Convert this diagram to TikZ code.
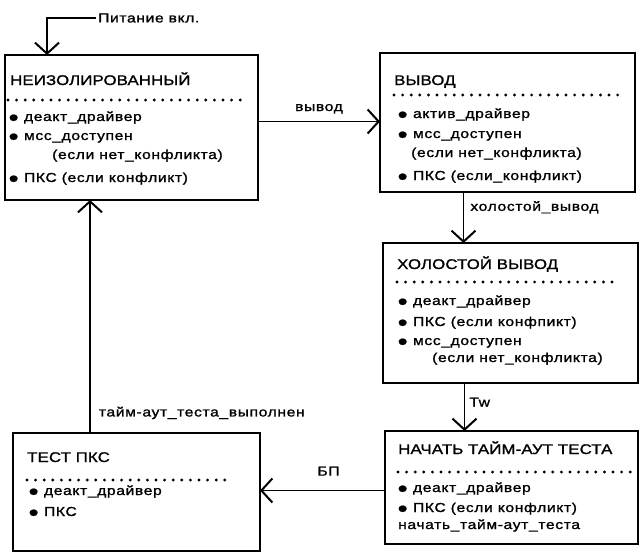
\documentclass[tikz,border=0pt]{standalone}
\usepackage{fontspec}
\setmainfont{Liberation Sans}
\newfontfamily\titlefont[FakeStretch=1.2,LetterSpace=1,FakeBold=1.3]{Liberation Sans}
\newfontfamily\itemfont[FakeStretch=1.2,LetterSpace=5,FakeBold=1.3]{Liberation Sans}
\newcommand{\bul}{\raisebox{-1pt}{\fontsize{15}{15}\selectfont ●}}
\usetikzlibrary{arrows.meta,positioning,calc}

\begin{document}
\begin{tikzpicture}[
    x=1pt, y=-1pt,
    statebox/.style={draw, line width=2.8pt, outer sep=0pt, inner sep=0pt, anchor=north west},
    ttl/.style={font=\titlefont\fontsize{14}{16}\selectfont, anchor=base west, inner sep=0pt},
    itm/.style={font=\itemfont\fontsize{13}{15}\selectfont, anchor=base west, inner sep=0pt},
    lbl/.style={font=\itemfont\fontsize{13}{15}\selectfont, inner sep=2pt},
    dots/.style={line width=3.2pt, line cap=round, dash pattern=on 0pt off 8.6pt},
    arr/.style={-{Straight Barb[length=11pt,width=24pt,line width=2pt]}, line width=1.8pt},
]
\useasboundingbox (0,0) rectangle (642,552);

% ── States ──
\node[statebox, minimum width=253pt, minimum height=145pt] (neizol) at (5,55) {};
\node[statebox, minimum width=255pt, minimum height=139pt] (vyvod) at (380,53) {};
\node[statebox, minimum width=255pt, minimum height=140pt] (holost) at (383,243) {};
\node[statebox, minimum width=253pt, minimum height=113pt] (nachat) at (385,431) {};
\node[statebox, minimum width=247pt, minimum height=118pt] (test) at (13,433) {};

% ── НЕИЗОЛИРОВАННЫЙ ──
\node[ttl] (neizol-title) at ([xshift=5pt,yshift=-30pt]neizol.north west) {НЕИЗОЛИРОВАННЫЙ};
\draw[dots] ([xshift=3pt,yshift=-45pt]neizol.north west) -- ([xshift=240pt,yshift=-45pt]neizol.north west);
\foreach \dx/\dy/\txt [count=\i] in {3/66/{\bul\ деакт\_драйвер},
    3/85/{\bul\ мсс\_доступен}, 47/104/{(если нет\_конфликта)},
    3/127/{\bul\ ПКС (если конфликт)}}
  \node[itm] (neizol-\i) at ([xshift=\dx pt,yshift=-\dy pt]neizol.north west) {\txt};

% ── ВЫВОД ──
\node[ttl] (vyvod-title) at ([xshift=14pt,yshift=-32pt]vyvod.north west) {ВЫВОД};
\draw[dots] ([xshift=14pt,yshift=-42pt]vyvod.north west) -- ([xshift=238pt,yshift=-42pt]vyvod.north west);
\foreach \dx/\dy/\txt [count=\i] in {17/65/{\bul\ актив\_драйвер},
    17/85/{\bul\ мсс\_доступен}, 31/104/{(если нет\_конфликта)},
    17/127/{\bul\ ПКС (если\_конфликт)}}
  \node[itm] (vyvod-\i) at ([xshift=\dx pt,yshift=-\dy pt]vyvod.north west) {\txt};

% ── ХОЛОСТОЙ ВЫВОД ──
\node[ttl] (holost-title) at ([xshift=14pt,yshift=-26pt]holost.north west) {ХОЛОСТОЙ ВЫВОД};
\draw[dots] ([xshift=14pt,yshift=-39pt]holost.north west) -- ([xshift=234pt,yshift=-39pt]holost.north west);
\foreach \dx/\dy/\txt [count=\i] in {14/62/{\bul\ деакт\_драйвер},
    14/83/{\bul\ ПКС (если конфпикт)}, 14/102/{\bul\ мсс\_доступен},
    49/119/{(если нет\_конфликта)}}
  \node[itm] (holost-\i) at ([xshift=\dx pt,yshift=-\dy pt]holost.north west) {\txt};

% ── НАЧАТЬ ТАЙМ-АУТ ТЕСТА ──
\node[ttl] (nachat-title) at ([xshift=13pt,yshift=-23pt]nachat.north west) {НАЧАТЬ ТАЙМ-АУТ ТЕСТА};
\draw[dots] ([xshift=13pt,yshift=-41pt]nachat.north west) -- ([xshift=250pt,yshift=-41pt]nachat.north west);
\foreach \dx/\dy/\txt [count=\i] in {12/61/{\bul\ деакт\_драйвер},
    12/81/{\bul\ ПКС (если конфликт)}, 13/98/{начать\_тайм-аут\_теста}}
  \node[itm] (nachat-\i) at ([xshift=\dx pt,yshift=-\dy pt]nachat.north west) {\txt};

% ── ТЕСТ ПКС ──
\node[ttl] (test-title) at ([xshift=14pt,yshift=-29pt]test.north west) {ТЕСТ ПКС};
\draw[dots] ([xshift=14pt,yshift=-47pt]test.north west) -- ([xshift=217pt,yshift=-47pt]test.north west);
\foreach \dx/\dy/\txt [count=\i] in {15/62/{\bul\ деакт\_драйвер},
    15/83/{\bul\ ПКС}}
  \node[itm] (test-\i) at ([xshift=\dx pt,yshift=-\dy pt]test.north west) {\txt};

% ── Transitions ──
\coordinate (pin) at ([xshift=42pt]neizol.north west);
\node[lbl, anchor=west] (power) at (96,18) {Питание вкл.};
\draw[arr] (power.west) -| (pin);

\draw[arr] ([yshift=6pt]neizol.east) -- ([yshift=6pt]neizol.east -| vyvod.west)
    node[lbl, midway, above=5pt] (vyvod-lbl) {вывод};
\draw[arr] ([xshift=-44pt]vyvod.south) -- ([xshift=-44pt]vyvod.south |- holost.north)
    node[lbl, pos=0.3, right=4pt] (holost-lbl) {холостой\_вывод};
\draw[arr] ([xshift=-46pt]holost.south) -- ([xshift=-46pt]holost.south |- nachat.north)
    node[lbl, pos=0.4, right=2pt] (tw-lbl) {Tw};
\draw[arr] ([yshift=-3pt]nachat.west) -- ([yshift=-3pt]nachat.west -| test.east)
    node[lbl, midway, above=12pt, xshift=6pt] (bp-lbl) {БП};
\draw[arr] ([xshift=-46.5pt]test.north) -- ([xshift=-46.5pt]test.north |- neizol.south)
    node[lbl, pos=0.086, right=6pt] (done-lbl) {тайм-аут\_теста\_выполнен};

\end{tikzpicture}
\end{document}
